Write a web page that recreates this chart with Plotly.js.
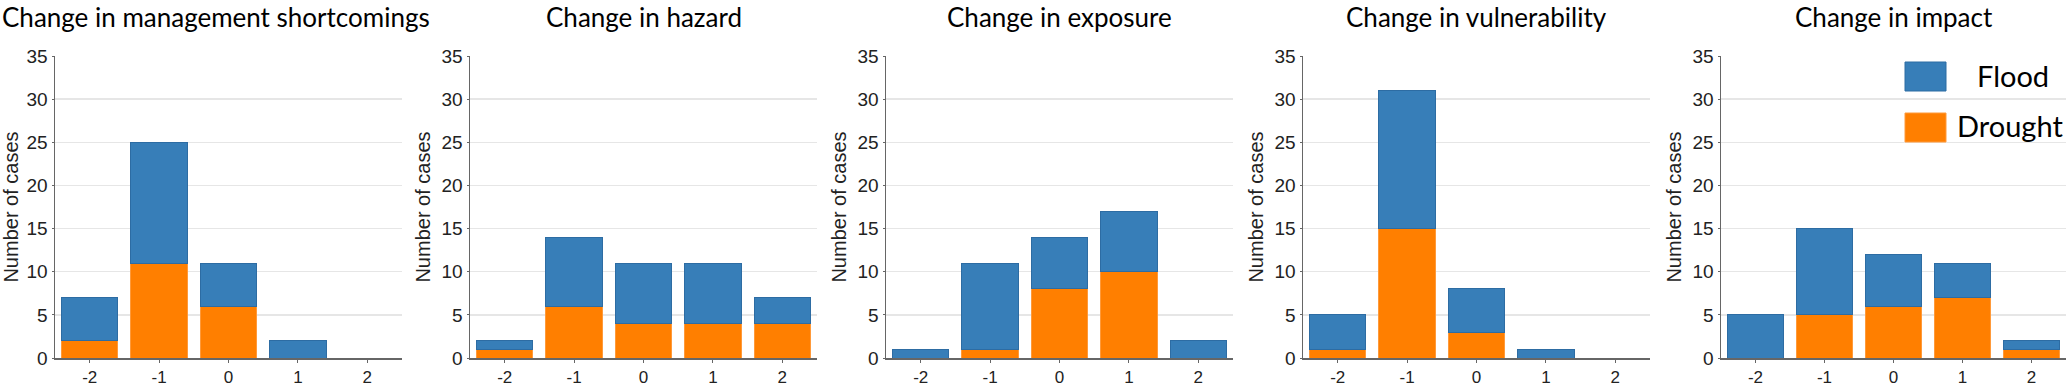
<!DOCTYPE html>
<html>
<head>
<meta charset="utf-8">
<script src="https://cdn.plot.ly/plotly-3.0.1.min.js"></script>
<style>
  html, body { margin: 0; padding: 0; background: #fff; }
  #plot { width: 2067px; height: 389px; }
</style>
</head>
<body>
<div id="plot"></div>
<script>
const W = 2067, H = 389;

const categories = ["-2", "-1", "0", "1", "2"];
const panelTitles = [
  "Change in management shortcomings",
  "Change in hazard",
  "Change in exposure",
  "Change in vulnerability",
  "Change in impact"
];

// drought at the bottom, flood stacked on top
const droughtMgmt = [2, 11, 6, 0, 0];
const floodMgmt = [5, 14, 5, 2, 0];
const droughtHazard = [1, 6, 4, 4, 4];
const floodHazard = [1, 8, 7, 7, 3];
const droughtExposure = [0, 1, 8, 10, 0];
const floodExposure = [1, 10, 6, 7, 2];
const droughtVuln = [1, 15, 3, 0, 0];
const floodVuln = [4, 16, 5, 1, 0];
const droughtImpact = [0, 5, 6, 7, 1];
const floodImpact = [5, 10, 6, 4, 1];

const droughtSeries = [droughtMgmt, droughtHazard, droughtExposure, droughtVuln, droughtImpact];
const floodSeries = [floodMgmt, floodHazard, floodExposure, floodVuln, floodImpact];

const FLOOD = "#377eb8";
const DROUGHT = "#ff7f00";

// axis left/right edges in pixels
const axisPx = [[55, 402], [470, 817], [886, 1233], [1303, 1650], [1721, 2066]];
const yBottomPx = 358, yTopPx = 56;

const TITLE_FONT = "Lato, 'Open Sans', sans-serif";
const AXIS_FONT = "'Liberation Sans', Arial, sans-serif";

const traces = [];
const layout = {
  width: W, height: H,
  margin: { l: 0, r: 0, t: 0, b: 0 },
  paper_bgcolor: "#fff",
  plot_bgcolor: "#fff",
  barmode: "stack",
  bargap: 0.19,
  showlegend: false,
  font: { family: AXIS_FONT, color: "#222" },
  annotations: [],
  shapes: []
};

for (let i = 0; i < 5; i++) {
  const sfx = i === 0 ? "" : String(i + 1);
  traces.push({
    type: "bar", name: "Drought",
    x: categories, y: droughtSeries[i],
    xaxis: "x" + sfx, yaxis: "y" + sfx,
    marker: { color: DROUGHT, line: { color: "#ff9a3a", width: 1 } },
    hoverinfo: "y"
  });
  traces.push({
    type: "bar", name: "Flood",
    x: categories, y: floodSeries[i],
    xaxis: "x" + sfx, yaxis: "y" + sfx,
    marker: { color: FLOOD, line: { color: "#2d6ca3", width: 1 } },
    hoverinfo: "y"
  });

  const [x0, x1] = axisPx[i];
  layout["xaxis" + sfx] = {
    domain: [x0 / W, x1 / W],
    anchor: "y" + sfx,
    type: "category",
    range: [-0.5, 4.5],
    showline: true, linecolor: "#666", linewidth: 1.5,
    ticks: "outside", ticklen: 3, tickcolor: "#666", tickwidth: 1,
    showgrid: false, zeroline: false,
    tickfont: { family: AXIS_FONT, size: 17, color: "#222" }
  };
  layout["yaxis" + sfx] = {
    domain: [(H - yBottomPx) / H, (H - yTopPx) / H],
    anchor: "x" + sfx,
    range: [0, 35],
    dtick: 5,
    showline: true, linecolor: "#666", linewidth: 1.5,
    ticks: "outside", ticklen: 2, tickcolor: "#666",
    showgrid: true, gridcolor: "#e6e6e6", gridwidth: 1.5,
    zeroline: false,
    tickfont: { family: AXIS_FONT, size: 19, color: "#222" },
    title: { text: "Number of cases", font: { family: AXIS_FONT, size: 20, color: "#222" }, standoff: 5 }
  };

  const cx = i === 0 ? 0 : (x0 + x1) / 2 / W;
  layout.annotations.push({
    xref: "paper", yref: "paper",
    x: cx, y: 1 - 17 / H,
    xanchor: i === 0 ? "left" : "center", yanchor: "middle",
    showarrow: false,
    text: panelTitles[i],
    font: { family: TITLE_FONT, size: 26, color: "#000" }
  });
}

// legend drawn as boxes + labels in the last panel
const legendItems = [
  { label: "Flood", color: FLOOD, edge: "#2d6ca3", top: 62, textX: 2013 },
  { label: "Drought", color: DROUGHT, edge: "#ff9a3a", top: 113, textX: 2010 }
];
legendItems.forEach(it => {
  layout.shapes.push({
    type: "rect", xref: "paper", yref: "paper",
    x0: 1905 / W, x1: 1946 / W,
    y0: 1 - (it.top + 29) / H, y1: 1 - it.top / H,
    fillcolor: it.color, line: { color: it.edge, width: 1 }
  });
  layout.annotations.push({
    xref: "paper", yref: "paper",
    x: it.textX / W, y: 1 - (it.top + 13) / H,
    xanchor: "center", yanchor: "middle",
    showarrow: false,
    text: it.label,
    font: { family: TITLE_FONT, size: 29, color: "#000" }
  });
});

Plotly.newPlot("plot", traces, layout, { staticPlot: true });
</script>
</body>
</html>
